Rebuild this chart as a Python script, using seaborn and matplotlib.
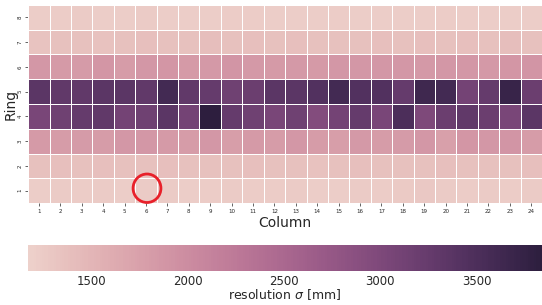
import matplotlib
matplotlib.use('Agg')

import matplotlib.pyplot as plt
from matplotlib.patches import Ellipse
import numpy as np
import pandas as pd
import seaborn as sns

# === Data: resolution sigma [mm] per ring (8 at top) and column ===
columns = list(range(1, 25))
rings = [8, 7, 6, 5, 4, 3, 2, 1]

ring8 = [1220, 1240, 1250, 1230, 1220, 1250, 1230, 1230, 1220, 1240, 1240, 1230,
         1220, 1230, 1240, 1230, 1230, 1220, 1230, 1240, 1230, 1230, 1220, 1230]
ring7 = [1340, 1360, 1370, 1350, 1360, 1380, 1360, 1370, 1390, 1370, 1380, 1360,
         1380, 1370, 1360, 1370, 1380, 1370, 1380, 1370, 1380, 1370, 1390, 1370]
ring6 = [1850, 1830, 1820, 1870, 1800, 1850, 1870, 1830, 1840, 1900, 1840, 1830,
         1840, 1830, 1860, 1850, 1860, 1850, 1840, 1850, 1860, 1840, 1870, 1900]
ring5 = [3350, 3300, 3300, 3350, 3350, 3300, 3600, 3300, 3250, 3150, 3200, 3350,
         3350, 3450, 3600, 3450, 3450, 3250, 3650, 3600, 3100, 3250, 3720, 3200]
ring4 = [3050, 3150, 3250, 3300, 3100, 3150, 3350, 3100, 3840, 3250, 3150, 3050,
         3150, 2950, 3100, 3250, 3050, 3500, 3000, 3200, 3300, 3200, 3050, 3350]
ring3 = [1830, 1800, 1820, 1800, 1850, 1850, 1830, 1800, 1850, 1780, 1830, 1800,
         1850, 1800, 1780, 1840, 1800, 1820, 1850, 1760, 1870, 1850, 1900, 1800]
ring2 = [1370, 1380, 1370, 1380, 1360, 1370, 1380, 1370, 1360, 1370, 1380, 1370,
         1360, 1350, 1370, 1380, 1370, 1360, 1370, 1380, 1370, 1360, 1370, 1380]
ring1 = [1230, 1250, 1240, 1250, 1230, 1250, 1250, 1230, 1240, 1250, 1240, 1240,
         1250, 1220, 1230, 1250, 1240, 1260, 1280, 1250, 1240, 1250, 1240, 1250]

df = pd.DataFrame([ring8, ring7, ring6, ring5, ring4, ring3, ring2, ring1],
                  index=rings, columns=columns)

# === Figure ===
sns.set_theme(style="ticks")
plt.rcParams['font.family'] = ['DejaVu Sans']

fig = plt.figure(figsize=(5.42, 3.05), dpi=100)
ax = fig.add_axes([0.052, 0.334, 0.948, 0.650])
cax = fig.add_axes([0.052, 0.111, 0.948, 0.085])

cmap = sns.cubehelix_palette(as_cmap=True)
sns.heatmap(df, ax=ax, cmap=cmap, vmin=1170, vmax=3840,
            linewidths=0.5, linecolor="white",
            cbar_ax=cax, cbar_kws={"orientation": "horizontal",
                                   "label": r"resolution $\sigma$ [mm]"})

ax.set_xlabel("Column", fontsize=10, labelpad=2)
ax.set_ylabel("Ring", fontsize=10, labelpad=0)
ax.tick_params(axis="both", labelsize=4, length=2, width=0.5, pad=2)
ax.set_yticklabels(ax.get_yticklabels(), rotation=90, va="center")
ax.set_xticklabels(ax.get_xticklabels(), rotation=0)

cax.tick_params(labelsize=8.5, length=0, pad=3)
cax.xaxis.label.set_size(9)
cax.xaxis.labelpad = -1
cax.set_xticks([1500, 2000, 2500, 3000, 3500])

# red circle annotation around ring 1, column 6
ax.add_patch(Ellipse((5.55, 7.4), 1.3, 1.15, fill=False, edgecolor="#e8202a",
                     linewidth=2, clip_on=False))

plt.savefig("out.png", dpi=100)
